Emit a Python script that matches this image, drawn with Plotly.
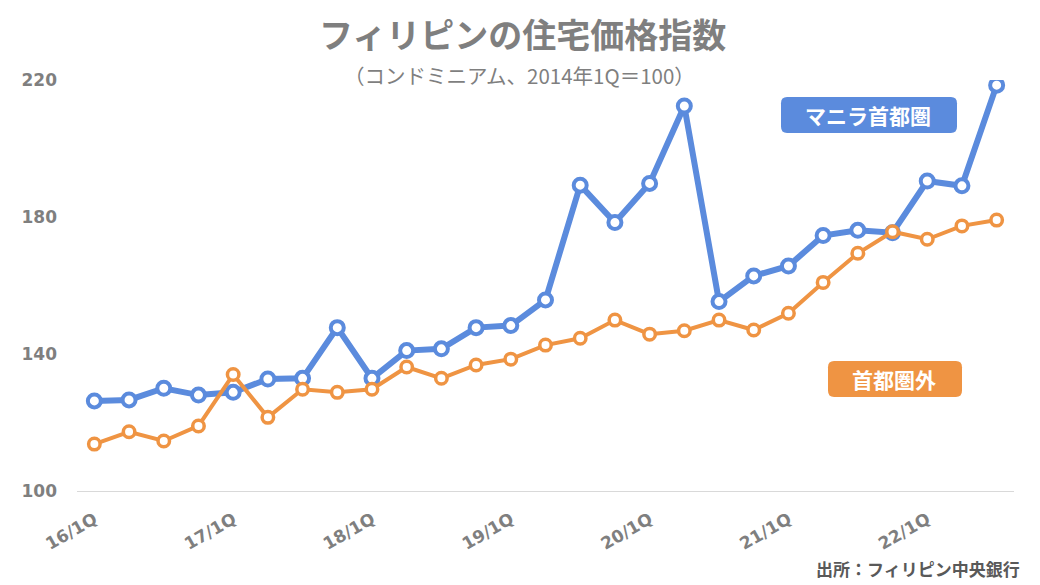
import plotly.graph_objects as go

# Quartale 2016/1Q bis 2022/3Q
quartale = [f"{j}/{q}Q" for j in range(16, 23) for q in range(1, 5)][:27]
tick_labels = ["16/1Q", "17/1Q", "18/1Q", "19/1Q", "20/1Q", "21/1Q", "22/1Q"]

manila = [126.3, 126.6, 130.0, 128.0, 128.8, 132.7, 132.9, 147.7, 132.9, 141.0,
          141.5, 147.7, 148.3, 155.8, 189.3, 178.4, 189.8, 212.4, 155.3, 162.8,
          165.7, 174.6, 176.1, 175.4, 190.5, 189.1, 218.5]
ausserhalb = [113.7, 117.3, 114.6, 119.0, 134.0, 121.5, 129.7, 128.8, 129.7, 136.2,
              132.9, 136.8, 138.5, 142.6, 144.6, 149.9, 145.8, 146.8, 149.9, 147.0,
              151.9, 160.9, 169.4, 175.7, 173.5, 177.4, 179.1]

BLAU = "#5B8BDD"
ORANGE = "#EF9443"
GRAU = "#7F7F7F"
FONT = "Noto Sans CJK JP"
ZIFFERN = "DejaVu Sans"


def abgerundet(x0, y0, x1, y1, rx=0.0065, ry=0.015):
    # Rechteck mit runden Ecken in Paper-Koordinaten
    return (f"M{x0+rx},{y0} L{x1-rx},{y0} Q{x1},{y0} {x1},{y0+ry} "
            f"L{x1},{y1-ry} Q{x1},{y1} {x1-rx},{y1} L{x0+rx},{y1} "
            f"Q{x0},{y1} {x0},{y1-ry} L{x0},{y0+ry} Q{x0},{y0} {x0+rx},{y0} Z")


fig = go.Figure()
fig.add_trace(go.Scatter(
    x=quartale, y=manila, mode="lines+markers", name="マニラ首都圏",
    line=dict(color=BLAU, width=6),
    marker=dict(size=13, color="white", line=dict(color=BLAU, width=4)),
))
fig.add_trace(go.Scatter(
    x=quartale, y=ausserhalb, mode="lines+markers", name="首都圏外",
    line=dict(color=ORANGE, width=4),
    marker=dict(size=11.5, color="white", line=dict(color=ORANGE, width=3.5)),
))

# die Seite hat 8px Rand, deshalb etwas kleiner
fig.update_layout(
    width=1032, height=577,
    margin=dict(l=69, r=26, t=72, b=94),
    paper_bgcolor="white", plot_bgcolor="white",
    showlegend=False,
    font=dict(family=FONT, color=GRAU),
    xaxis=dict(
        type="category", categoryorder="array", categoryarray=quartale,
        range=[-0.5, 26.5], tickvals=tick_labels, ticktext=tick_labels,
        tickangle=-30, showgrid=False, showline=True, linecolor="#D9D9D9",
        linewidth=1, ticks="", zeroline=False, ticklabelstandoff=11,
        tickfont=dict(family=ZIFFERN, size=17, color=GRAU, weight="bold"),
    ),
    yaxis=dict(
        range=[100, 220], tickvals=[100, 140, 180, 220], showgrid=False,
        zeroline=False, showline=False, ticks="", ticklabelstandoff=19,
        tickfont=dict(family=ZIFFERN, size=17, color=GRAU, weight="bold"),
    ),
)

# Umrechnung Referenz-Pixel -> Paper
x0, x1 = 77, 1014
y0, y1 = 491, 80
px = lambda v: (v - x0) / (x1 - x0)
py = lambda v: (y0 - v) / (y0 - y1)

fig.add_shape(type="path", xref="paper", yref="paper", line=dict(width=0),
              fillcolor=BLAU, path=abgerundet(px(781), py(133), px(957), py(97)))
fig.add_shape(type="path", xref="paper", yref="paper", line=dict(width=0),
              fillcolor=ORANGE, path=abgerundet(px(828), py(397), px(962), py(361)))

fig.add_annotation(x=px(868), y=py(115), text="<b>マニラ首都圏</b>",
                   font=dict(family=FONT, size=21, color="white"))
fig.add_annotation(x=px(894), y=py(379), text="<b>首都圏外</b>",
                   font=dict(family=FONT, size=21, color="white"))

# Titel, Untertitel, Quelle
fig.add_annotation(x=px(522), y=py(34), text="<b>フィリピンの住宅価格指数</b>",
                   font=dict(family=FONT, size=34, color=GRAU))
fig.add_annotation(x=px(519), y=py(75), text="（コンドミニアム、2014年1Q＝100）",
                   font=dict(family=FONT, size=20.5, color=GRAU))
fig.add_annotation(x=px(1022), y=py(568), xanchor="right",
                   text="<b>出所：フィリピン中央銀行</b>",
                   font=dict(family=FONT, size=17, color="#595959"))

fig.update_annotations(xref="paper", yref="paper", showarrow=False, yanchor="middle")
for a in fig.layout.annotations:
    if a.xanchor is None:
        a.xanchor = "center"

fig.write_html("out.html")
